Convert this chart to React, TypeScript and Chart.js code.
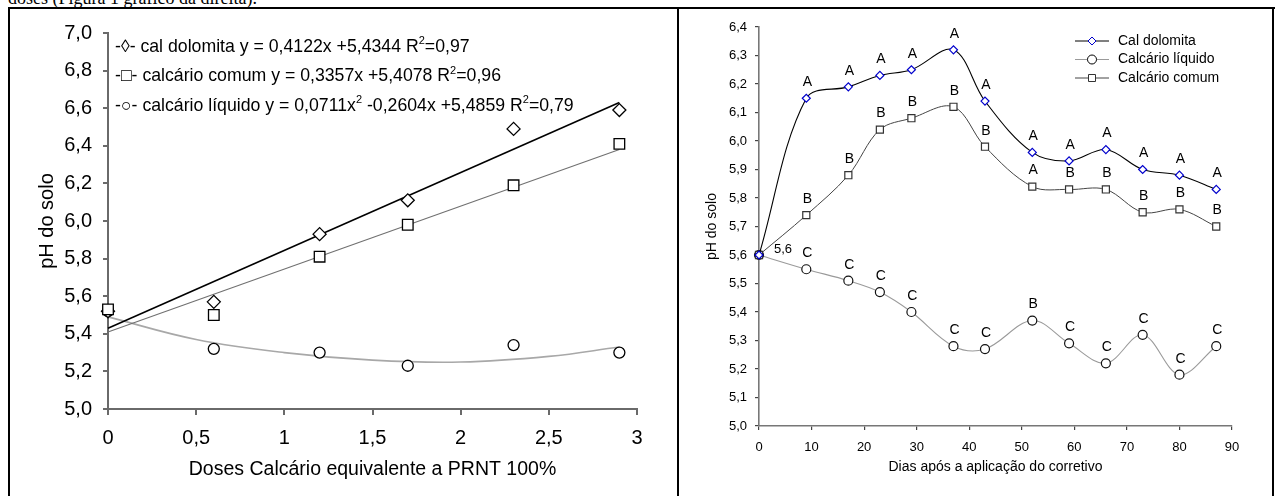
import React, { useEffect, useRef } from 'react';
import Chart from 'chart.js/auto';

const SANS = '"Liberation Sans", Arial, Helvetica, sans-serif';
const SERIF = '"Liberation Serif", "Times New Roman", serif';

// ---------- Left chart: pH vs. doses ----------
const doses = [0, 0.6, 1.2, 1.7, 2.3, 2.9];
const dolomitaDoses = [5.52, 5.57, 5.93, 6.11, 6.49, 6.59];
const comumDoses = [5.53, 5.5, 5.81, 5.98, 6.19, 6.41];
const liquidoDoses = [5.52, 5.32, 5.3, 5.23, 5.34, 5.3];

// trend lines
const linearTrendX = [0, 2.9];
const dolomitaTrend = [5.43, 6.63];
const comumTrend = [5.41, 6.38];
const liquidoTrendX = [0, 0.5, 1, 1.5, 2, 2.5, 2.9];
const liquidoTrend = [5.49, 5.37, 5.3, 5.26, 5.25, 5.28, 5.33];

// '^' marks the next character as superscript
const leftLegend = [
  '-◊- cal dolomita y = 0,4122x +5,4344 R^2=0,97',
  '-□- calcário comum y = 0,3357x +5,4078 R^2=0,96',
  '-○- calcário líquido y = 0,0711x^2 -0,2604x +5,4859 R^2=0,79',
];
const leftYTitle = 'pH do solo';
const leftXTitle = 'Doses Calcário equivalente a PRNT 100%';

// ---------- Right chart: pH vs. days ----------
const dias = [0, 9, 17, 23, 29, 37, 43, 52, 59, 66, 73, 80, 87];
const calDolomita = [5.6, 6.15, 6.19, 6.23, 6.25, 6.32, 6.14, 5.96, 5.93, 5.97, 5.9, 5.88, 5.83];
const calcarioLiquido = [5.6, 5.55, 5.51, 5.47, 5.4, 5.28, 5.27, 5.37, 5.29, 5.22, 5.32, 5.18, 5.28];
const calcarioComum = [5.6, 5.74, 5.88, 6.04, 6.08, 6.12, 5.98, 5.84, 5.83, 5.83, 5.75, 5.76, 5.7];
const dolomitaLetters = ['', 'A', 'A', 'A', 'A', 'A', 'A', 'A', 'A', 'A', 'A', 'A', 'A'];
const comumLetters = ['', 'B', 'B', 'B', 'B', 'B', 'B', 'A', 'B', 'B', 'B', 'B', 'B'];
const liquidoLetters = ['', 'C', 'C', 'C', 'C', 'C', 'C', 'B', 'C', 'C', 'C', 'C', 'C'];
const startLabel = '5,6';
const rightLegend = ['Cal dolomita', 'Calcário líquido', 'Calcário comum'];
const rightYTitle = 'pH do solo';
const rightXTitle = 'Dias após a aplicação do corretivo';

const headerText = 'doses (Figura 1 gráfico da direita).';

const pts = (xs: number[], ys: number[]) => xs.map((x, i) => ({ x, y: ys[i] }));
const comma = (v: number, d?: number) => (d === undefined ? String(v) : v.toFixed(d)).replace('.', ',');

function shape(ctx: CanvasRenderingContext2D, kind: string, x: number, y: number, r: number) {
  ctx.beginPath();
  if (kind === 'diamond') {
    ctx.moveTo(x - r, y); ctx.lineTo(x, y - r); ctx.lineTo(x + r, y); ctx.lineTo(x, y + r); ctx.closePath();
  } else if (kind === 'square') {
    ctx.rect(x - r, y - r, 2 * r, 2 * r);
  } else {
    ctx.arc(x, y, r, 0, Math.PI * 2);
  }
  ctx.fill();
  ctx.stroke();
}

const leftTextPlugin = {
  id: 'leftText',
  afterDraw(chart: any) {
    const ctx: CanvasRenderingContext2D = chart.ctx;
    const a = chart.chartArea;
    ctx.save();
    ctx.fillStyle = '#000';
    ctx.textBaseline = 'middle';
    ctx.textAlign = 'left';
    const main = `17.7px ${SANS}`;
    const sup = `11px ${SANS}`;
    leftLegend.forEach((line, i) => {
      const y = a.top + 14 + i * 29.5;
      let x = a.left + 7;
      const parts = line.split('^');
      parts.forEach((p, k) => {
        let rest = p;
        if (k > 0) {
          ctx.font = sup;
          ctx.fillText(p[0], x, y - 6);
          x += ctx.measureText(p[0]).width;
          rest = p.slice(1);
        }
        ctx.font = main;
        ctx.fillText(rest, x, y);
        x += ctx.measureText(rest).width;
      });
    });
    ctx.font = `19.5px ${SANS}`;
    ctx.textAlign = 'center';
    ctx.fillText(leftXTitle, (a.left + a.right) / 2, a.bottom + 61);
    ctx.font = `20px ${SANS}`;
    ctx.translate(a.left - 61, (a.top + a.bottom) / 2);
    ctx.rotate(-Math.PI / 2);
    ctx.fillText(leftYTitle, 0, 0);
    ctx.restore();
  },
};

const rightTextPlugin = {
  id: 'rightText',
  afterDraw(chart: any) {
    const ctx: CanvasRenderingContext2D = chart.ctx;
    const a = chart.chartArea;
    ctx.save();
    ctx.fillStyle = '#000';
    ctx.textBaseline = 'middle';
    ctx.textAlign = 'center';
    ctx.font = `14px ${SANS}`;
    const letterSets = [dolomitaLetters, comumLetters, liquidoLetters];
    letterSets.forEach((letters, di) => {
      const meta = chart.getDatasetMeta(di);
      letters.forEach((l, j) => {
        if (!l) return;
        const el = meta.data[j];
        ctx.fillText(l, el.x + 1, el.y - 16);
      });
    });
    const p0 = chart.getDatasetMeta(2).data[0];
    ctx.font = `13px ${SANS}`;
    ctx.fillText(startLabel, p0.x + 24, p0.y - 6);

    // legend
    const styles = [
      { line: '#000', mark: '#0000cc', kind: 'diamond', r: 4 },
      { line: '#9a9a9a', mark: '#000', kind: 'circle', r: 4.5 },
      { line: '#444', mark: '#333', kind: 'square', r: 3.5 },
    ];
    ctx.textAlign = 'left';
    ctx.font = `14px ${SANS}`;
    rightLegend.forEach((name, i) => {
      const y = a.top + 14 + i * 18.5;
      const x0 = a.left + 316;
      const s = styles[i];
      ctx.strokeStyle = s.line;
      ctx.lineWidth = 1;
      ctx.beginPath();
      ctx.moveTo(x0, y);
      ctx.lineTo(x0 + 34, y);
      ctx.stroke();
      ctx.strokeStyle = s.mark;
      ctx.fillStyle = '#fff';
      shape(ctx, s.kind, x0 + 17, y, s.r);
      ctx.fillStyle = '#000';
      ctx.fillText(name, x0 + 43, y);
    });

    ctx.textAlign = 'center';
    ctx.font = `14px ${SANS}`;
    ctx.fillText(rightXTitle, (a.left + a.right) / 2, a.bottom + 41);
    ctx.translate(a.left - 47, (a.top + a.bottom) / 2);
    ctx.rotate(-Math.PI / 2);
    ctx.fillText(rightYTitle, 0, 0);
    ctx.restore();
  },
};

export default function App() {
  const leftRef = useRef<HTMLCanvasElement>(null);
  const rightRef = useRef<HTMLCanvasElement>(null);

  useEffect(() => {
    const axisGray = '#6a6a6a';
    const left = new Chart(leftRef.current as HTMLCanvasElement, {
      type: 'scatter',
      data: {
        datasets: [
          { label: 'calcário comum', data: pts(doses, comumDoses), pointStyle: 'rect', pointRadius: 7.5, borderColor: '#000', backgroundColor: '#fff', borderWidth: 1.3, showLine: false, clip: false } as any,
          { label: 'cal dolomita', data: pts(doses, dolomitaDoses), pointStyle: 'rectRot', pointRadius: 6.5, borderColor: '#000', backgroundColor: '#fff', borderWidth: 1.3, showLine: false, clip: false } as any,
          { label: 'calcário líquido', data: pts(doses, liquidoDoses), pointStyle: 'circle', pointRadius: 5.5, borderColor: '#000', backgroundColor: '#fff', borderWidth: 1.3, showLine: false, clip: false } as any,
          { type: 'line', label: 'tend. dolomita', data: pts(linearTrendX, dolomitaTrend), borderColor: '#000', borderWidth: 1.6, pointRadius: 0, fill: false, clip: false } as any,
          { type: 'line', label: 'tend. comum', data: pts(linearTrendX, comumTrend), borderColor: '#707070', borderWidth: 1.1, pointRadius: 0, fill: false, clip: false } as any,
          { type: 'line', label: 'tend. líquido', data: pts(liquidoTrendX, liquidoTrend), borderColor: '#a8a8a8', borderWidth: 1.6, pointRadius: 0, fill: false, tension: 0.4, clip: false } as any,
        ],
      },
      options: {
        animation: false,
        responsive: false,
        devicePixelRatio: 1,
        events: [],
        layout: { padding: { left: 0, top: 33, right: 41, bottom: 0 } },
        plugins: { legend: { display: false }, tooltip: { enabled: false } },
        scales: {
          x: {
            type: 'linear', min: 0, max: 3,
            ticks: { stepSize: 0.5, color: '#000', padding: 11, font: { size: 20, family: SANS }, callback: (v: any) => comma(Number(v)) },
            grid: { drawOnChartArea: false, drawTicks: true, tickLength: 6, color: axisGray, lineWidth: 2 },
            border: { display: true, color: axisGray, width: 2 },
            afterFit: (s: any) => { s.height = 87; },
          },
          y: {
            type: 'linear', min: 5, max: 7,
            ticks: { stepSize: 0.2, color: '#000', padding: 11, font: { size: 20, family: SANS }, callback: (v: any) => comma(Number(v), 1) },
            grid: { drawOnChartArea: false, drawTicks: true, tickLength: 5, color: axisGray, lineWidth: 2 },
            border: { display: true, color: axisGray, width: 2 },
            afterFit: (s: any) => { s.width = 108; },
          },
        },
      } as any,
      plugins: [leftTextPlugin],
    });

    const rGray = '#777';
    const right = new Chart(rightRef.current as HTMLCanvasElement, {
      type: 'scatter',
      data: {
        datasets: [
          { label: 'Cal dolomita', data: pts(dias, calDolomita), showLine: true, tension: 0.35, borderColor: '#000', borderWidth: 1.1, pointStyle: 'rectRot', pointRadius: 4, pointBorderColor: '#0000cc', pointBackgroundColor: '#fff', pointBorderWidth: 1.2, clip: false } as any,
          { label: 'Calcário comum', data: pts(dias, calcarioComum), showLine: true, tension: 0.35, borderColor: '#444', borderWidth: 1, pointStyle: 'rect', pointRadius: 5, pointBorderColor: '#333', pointBackgroundColor: '#fff', pointBorderWidth: 1.2, clip: false } as any,
          { label: 'Calcário líquido', data: pts(dias, calcarioLiquido), showLine: true, tension: 0.35, borderColor: '#9a9a9a', borderWidth: 1.1, pointStyle: 'circle', pointRadius: 4.5, pointBorderColor: '#111', pointBackgroundColor: '#fff', pointBorderWidth: 1.2, clip: false } as any,
        ],
      },
      options: {
        animation: false,
        responsive: false,
        devicePixelRatio: 1,
        events: [],
        layout: { padding: { left: 0, top: 27, right: 43, bottom: 0 } },
        plugins: { legend: { display: false }, tooltip: { enabled: false } },
        scales: {
          x: {
            type: 'linear', min: 0, max: 90,
            ticks: { stepSize: 10, color: '#000', padding: 10, font: { size: 13, family: SANS }, callback: (v: any) => comma(Number(v)) },
            grid: { drawOnChartArea: false, drawTicks: true, tickLength: 4, color: '#444', lineWidth: 1.2 },
            border: { display: true, color: rGray, width: 1.6 },
            afterFit: (s: any) => { s.height = 70; },
          },
          y: {
            type: 'linear', min: 5, max: 6.4,
            ticks: { stepSize: 0.1, color: '#000', padding: 8, font: { size: 13, family: SANS }, callback: (v: any) => comma(Number(v), 1) },
            grid: { drawOnChartArea: false, drawTicks: true, tickLength: 4, color: '#444', lineWidth: 1.2 },
            border: { display: true, color: rGray, width: 1.6 },
            afterFit: (s: any) => { s.width = 79; },
          },
        },
      } as any,
      plugins: [rightTextPlugin],
    });

    return () => {
      left.destroy();
      right.destroy();
    };
  }, []);

  const line = (l: number, t: number, w: number, h: number) => (
    <div style={{ position: 'absolute', left: l, top: t, width: w, height: h, background: '#000' }} />
  );

  return (
    <div style={{ position: 'fixed', left: 0, top: 0, width: 1275, height: 496, overflow: 'hidden', background: '#fff' }}>
      <div style={{ position: 'absolute', left: 8, top: -11, fontFamily: SERIF, fontSize: 18, lineHeight: '18px', whiteSpace: 'nowrap', color: '#000' }}>
        {headerText}
      </div>
      <canvas ref={leftRef} width={678} height={496} style={{ position: 'absolute', left: 0, top: 0, width: 678, height: 496 }} />
      <canvas ref={rightRef} width={595} height={496} style={{ position: 'absolute', left: 680, top: 0, width: 595, height: 496 }} />
      {line(8, 7, 1267, 2)}
      {line(8, 7, 2, 489)}
      {line(677, 7, 2, 489)}
      {line(1272, 7, 2, 489)}
    </div>
  );
}
